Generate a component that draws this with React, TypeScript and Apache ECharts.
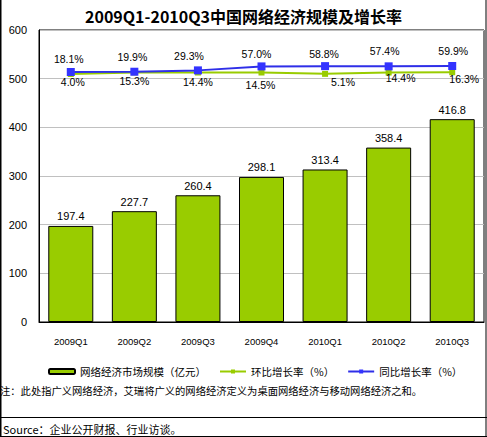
import React, { useEffect, useRef } from "react";
import * as echarts from "echarts";

const categories = ["2009Q1", "2009Q2", "2009Q3", "2009Q4", "2010Q1", "2010Q2", "2010Q3"];
const marketSize = [197.4, 227.7, 260.4, 298.1, 313.4, 358.4, 416.8];
const qoqGrowth = [4.0, 15.3, 14.4, 14.5, 5.1, 14.4, 16.3];
const yoyGrowth = [18.1, 19.9, 29.3, 57.0, 58.8, 57.4, 59.9];
const yTicks = { min: 0, max: 600, interval: 100 };

// layout-only: label nudges to mimic the original's hand-placed labels
const qoqLabelNudge = [[2, 8], [0, 9], [0, 9], [-1, 12], [18, 8], [12, 5], [12, 7]];
const yoyLabelNudge = [[-2, -13], [-2, -15], [-9, -14], [-5, -12], [-1, -12], [-4, -15], [1, -15]];

const FONT = "'Liberation Sans', 'Noto Sans CJK SC', sans-serif";
const CJK = "'Noto Sans CJK SC', 'Liberation Sans', sans-serif";

export default function App() {
  const ref = useRef<HTMLDivElement>(null);
  useEffect(() => {
    if (!ref.current) return;
    const chart = echarts.init(ref.current, null, { renderer: "svg" });
    const option: any = {
      animation: false,
      backgroundColor: "#ffffff",
      title: {
        text: "2009Q1-2010Q3中国网络经济规模及增长率",
        left: "center",
        top: 3,
        textStyle: { fontSize: 16, fontWeight: "bold", color: "#000", fontFamily: CJK },
      },
      grid: {
        left: 39,
        right: 3,
        top: 30,
        bottom: 115,
        show: true,
        borderColor: "#000",
        borderWidth: 1,
        backgroundColor: "transparent",
      },
      legend: {
        left: 48,
        top: 365,
        padding: 0,
        itemWidth: 26,
        itemHeight: 5,
        itemGap: 13,
        textStyle: { fontSize: 10.5, color: "#000", fontFamily: CJK, lineHeight: 13 },
        data: ["网络经济市场规模（亿元）", "环比增长率（%）", "同比增长率（%）"],
      },
      xAxis: {
        type: "category",
        data: categories,
        axisLine: { lineStyle: { color: "#000", width: 1 } },
        axisTick: { show: false },
        axisLabel: { fontSize: 9.5, color: "#000", margin: 15, fontFamily: FONT },
      },
      yAxis: [
        {
          type: "value",
          min: yTicks.min,
          max: yTicks.max,
          interval: yTicks.interval,
          axisLine: { show: true, lineStyle: { color: "#000", width: 1 } },
          axisTick: { show: false },
          axisLabel: { fontSize: 11, color: "#000", margin: 12, fontFamily: FONT },
          splitLine: { lineStyle: { color: "#c0c0c0", width: 1 } },
        },
        {
          type: "value",
          min: -1720,
          max: 310,
          show: false,
          splitLine: { show: false },
        },
      ],
      series: [
        {
          name: "网络经济市场规模（亿元）",
          type: "bar",
          data: marketSize,
          barWidth: 45,
          itemStyle: { color: "#99cc00", borderColor: "#000", borderWidth: 1 },
          label: {
            show: true,
            position: "top",
            distance: 4,
            fontSize: 11,
            color: "#000",
            fontFamily: FONT,
          },
        },
        {
          name: "环比增长率（%）",
          type: "line",
          yAxisIndex: 1,
          data: qoqGrowth.map((v, i) => ({
            value: v,
            label: { offset: qoqLabelNudge[i] },
          })),
          symbol: "rect",
          symbolSize: 6,
          lineStyle: { color: "#99cc00", width: 2 },
          itemStyle: { color: "#99cc00" },
          label: {
            show: true,
            position: "inside",
            formatter: (p: any) => p.value.toFixed(1) + "%",
            fontSize: 10.5,
            color: "#000",
            fontFamily: FONT,
          },
        },
        {
          name: "同比增长率（%）",
          type: "line",
          yAxisIndex: 1,
          data: yoyGrowth.map((v, i) => ({
            value: v,
            label: { offset: yoyLabelNudge[i] },
          })),
          symbol: "rect",
          symbolSize: 8,
          lineStyle: { color: "#2f2fe8", width: 2 },
          itemStyle: { color: "#3333ff" },
          label: {
            show: true,
            position: "inside",
            formatter: (p: any) => p.value.toFixed(1) + "%",
            fontSize: 10.5,
            color: "#000",
            fontFamily: FONT,
          },
        },
      ],
      graphic: [
        {
          type: "text",
          left: 0,
          top: 385,
          style: {
            text: "注：此处指广义网络经济，艾瑞将广义的网络经济定义为桌面网络经济与移动网络经济之和。",
            fontSize: 10.3,
            fill: "#000",
            fontFamily: CJK,
          },
        },
        {
          type: "line",
          shape: { x1: 0, y1: 417.5, x2: 487, y2: 417.5 },
          style: { stroke: "#000", lineWidth: 1 },
        },
        {
          type: "text",
          left: 3,
          top: 423,
          style: {
            text: "Source：企业公开财报、行业访谈。",
            fontSize: 11,
            fill: "#000",
            fontFamily: CJK,
          },
        },
        {
          type: "line",
          shape: { x1: 0.5, y1: 0, x2: 0.5, y2: 437 },
          style: { stroke: "#000", lineWidth: 2 },
        },
        {
          type: "line",
          shape: { x1: 486, y1: 0, x2: 486, y2: 437 },
          style: { stroke: "#000", lineWidth: 1 },
        },
        {
          type: "line",
          shape: { x1: 0, y1: 436.5, x2: 487, y2: 436.5 },
          style: { stroke: "#000", lineWidth: 1 },
        },
      ],
    };
    chart.setOption(option);
    return () => chart.dispose();
  }, []);
  return (
    <div
      ref={ref}
      style={{ position: "fixed", left: 0, top: 0, width: 487, height: 437 }}
    />
  );
}
